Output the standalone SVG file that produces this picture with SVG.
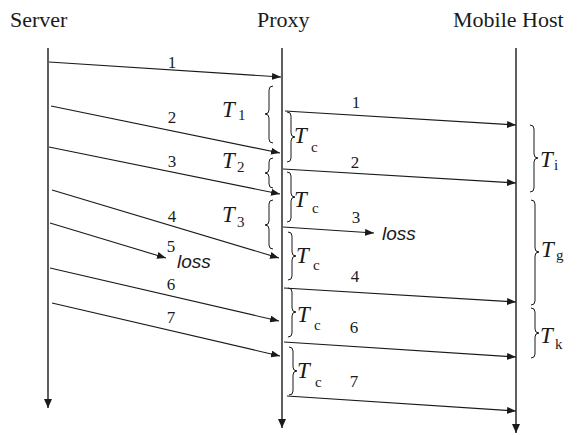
<svg xmlns="http://www.w3.org/2000/svg" width="577" height="435" viewBox="0 0 577 435">
<style>
.title{font-family:"Liberation Serif","Times New Roman",serif;font-size:22px;fill:#1a1a1a}
.num{font-family:"Liberation Serif","Times New Roman",serif;font-size:17px;fill:#1a1a1a;text-anchor:middle}
.t{font-family:"Liberation Serif","Times New Roman",serif;font-size:23px;font-style:italic;fill:#1a1a1a}
.sub{font-style:normal;font-size:15px}
.loss{font-family:"Liberation Sans",Arial,sans-serif;font-size:19px;font-style:italic;fill:#1a1a1a}
.life{stroke:#1a1a1a;stroke-width:1.4;fill:none}
.msg{stroke:#1a1a1a;stroke-width:1.1;fill:none;marker-end:url(#ah)}
.brace{stroke:#1a1a1a;stroke-width:1;fill:none}
</style>
<defs>
<marker id="ah" markerUnits="userSpaceOnUse" markerWidth="9" markerHeight="7" refX="9" refY="3.5" orient="auto">
<path d="M0,0 L9,3.5 L0,7 z" fill="#1a1a1a"/>
</marker>
<marker id="ahl" markerUnits="userSpaceOnUse" markerWidth="9" markerHeight="8" refX="9" refY="4" orient="auto">
<path d="M0,0 L9,4 L0,8 z" fill="#1a1a1a"/>
</marker>
</defs>

<g id="server">
<text class="title" x="10" y="27">Server</text>
<line class="life" x1="48" y1="48" x2="48" y2="408" marker-end="url(#ahl)"/>
</g>
<g id="proxy">
<text class="title" x="257" y="27">Proxy</text>
<line class="life" x1="282" y1="48" x2="282" y2="428" marker-end="url(#ahl)"/>
</g>
<g id="mobile-host">
<text class="title" x="453" y="27">Mobile Host</text>
<line class="life" x1="516" y1="48" x2="516" y2="433" marker-end="url(#ahl)"/>
</g>

<g id="connectors">
<line class="msg" x1="49" y1="62" x2="281" y2="77"/>
<line class="msg" x1="51" y1="106" x2="280" y2="153"/>
<line class="msg" x1="49" y1="147" x2="280" y2="194"/>
<line class="msg" x1="52" y1="190" x2="279" y2="258"/>
<line class="msg" x1="50" y1="223" x2="166" y2="258"/>
<line class="msg" x1="50" y1="268" x2="279" y2="321"/>
<line class="msg" x1="52" y1="303" x2="280" y2="356"/>

<line class="msg" x1="285" y1="111" x2="516" y2="125"/>
<line class="msg" x1="283" y1="169" x2="516" y2="183"/>
<line class="msg" x1="283" y1="227" x2="374" y2="233"/>
<line class="msg" x1="284" y1="288" x2="516" y2="302"/>
<line class="msg" x1="284" y1="342" x2="516" y2="357"/>
<line class="msg" x1="287" y1="396" x2="516" y2="411"/>
</g>

<g id="labels">
<text class="num" x="172" y="68">1</text>
<text class="num" x="172" y="123">2</text>
<text class="num" x="172" y="167">3</text>
<text class="num" x="172" y="222">4</text>
<text class="num" x="171" y="252">5</text>
<text class="num" x="171" y="290">6</text>
<text class="num" x="171" y="323">7</text>
<text class="loss" x="177" y="268">loss</text>

<text class="num" x="356" y="108">1</text>
<text class="num" x="355" y="168">2</text>
<text class="num" x="356" y="223">3</text>
<text class="num" x="355" y="282">4</text>
<text class="num" x="354" y="333">6</text>
<text class="num" x="354" y="387">7</text>
<text class="loss" x="382" y="240">loss</text>
</g>

<g id="intervals">
<path class="brace" d="M273,86 Q269,86 269,90 L269,110 Q269,114 265,114 Q269,114 269,118 L269,139 Q269,143 273,143"/>
<text class="t" x="222" y="117">T<tspan class="sub" x="238" y="120">1</tspan></text>
<path class="brace" d="M273,158 Q269,158 269,162 L269,169 Q269,173 265,173 Q269,173 269,177 L269,184 Q269,188 273,188"/>
<text class="t" x="222" y="168">T<tspan class="sub" x="237" y="172">2</tspan></text>
<path class="brace" d="M273,200 Q269,200 269,204 L269,221 Q269,225 265,225 Q269,225 269,229 L269,245 Q269,249 273,249"/>
<text class="t" x="222" y="222">T<tspan class="sub" x="237" y="227">3</tspan></text>

<path class="brace" d="M287,112 Q291,112 291,116 L291,133 Q291,137 295,137 Q291,137 291,141 L291,158 Q291,162 287,162"/>
<text class="t" x="294" y="143">T<tspan class="sub" x="311" y="152">c</tspan></text>
<path class="brace" d="M287,172 Q291,172 291,176 L291,193 Q291,197 295,197 Q291,197 291,201 L291,218 Q291,222 287,222"/>
<text class="t" x="294" y="207">T<tspan class="sub" x="312" y="213">c</tspan></text>
<path class="brace" d="M288,232 Q292,232 292,236 L292,252 Q292,256 296,256 Q292,256 292,260 L292,276 Q292,280 288,280"/>
<text class="t" x="296" y="263">T<tspan class="sub" x="313" y="270">c</tspan></text>
<path class="brace" d="M288,288 Q292,288 292,292 L292,308 Q292,312 296,312 Q292,312 292,316 L292,333 Q292,337 288,337"/>
<text class="t" x="297" y="322">T<tspan class="sub" x="314" y="330">c</tspan></text>
<path class="brace" d="M289,347 Q293,347 293,351 L293,367 Q293,371 297,371 Q293,371 293,375 L293,391 Q293,395 289,395"/>
<text class="t" x="297" y="378">T<tspan class="sub" x="315" y="387">c</tspan></text>

<path class="brace" d="M530,125 Q534,125 534,129 L534,154 Q534,158 538,158 Q534,158 534,162 L534,188 Q534,192 530,192"/>
<text class="t" x="540" y="167">T<tspan class="sub" x="554" y="170">i</tspan></text>
<path class="brace" d="M531,200 Q535,200 535,204 L535,248 Q535,252 539,252 Q535,252 535,256 L535,301 Q535,305 531,305"/>
<text class="t" x="541" y="257">T<tspan class="sub" x="556" y="260">g</tspan></text>
<path class="brace" d="M531,308 Q535,308 535,312 L535,329 Q535,333 539,333 Q535,333 535,337 L535,354 Q535,358 531,358"/>
<text class="t" x="540" y="343">T<tspan class="sub" x="555" y="349">k</tspan></text>
</g>
</svg>
